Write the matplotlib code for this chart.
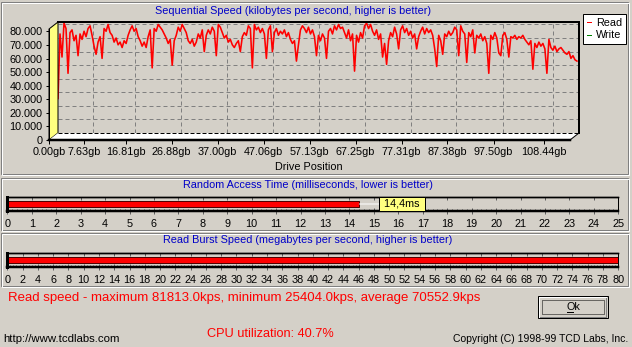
import numpy as np
import matplotlib
matplotlib.use('Agg')
import matplotlib.pyplot as plt
from matplotlib.patches import Polygon, Rectangle
from matplotlib.lines import Line2D

# ---------------- data ----------------
# sequential read speed, thousands of kB/s, read along the drive
read_speed = [
    25.4, 73, 56, 81, 77, 44, 74, 76, 68, 72, 57, 73, 69, 75, 71, 77, 79, 72, 64, 58,
    67, 71, 55, 77, 75, 80, 74, 72, 67, 70, 65, 67, 63, 68, 66, 72, 76, 79, 75, 77,
    71, 68, 64, 67, 63, 71, 76, 48, 77, 75, 80, 78, 76, 73, 70, 66, 69, 50, 68,
    72, 78, 75, 80, 77, 74, 68, 66, 69, 64, 67, 73, 70, 76, 60, 72, 76, 73, 78, 75,
    57, 80, 78, 74, 70, 72, 67, 69, 65, 63, 66, 68, 60, 71, 74, 72, 79, 77, 48, 80,
    76, 78, 74, 77, 73, 55, 76, 79, 60, 74, 77, 72, 75, 73, 76, 71, 74, 69, 66, 68,
    53, 65, 76, 79, 77,
    74, 78, 73, 76, 71, 57, 72, 68, 73, 70, 55, 75, 77, 73, 79, 76, 80, 77, 78, 74,
    70, 76, 68, 73, 45.6, 72, 67, 74, 70, 79, 81, 77, 80, 75, 72, 76, 69, 73, 56, 66,
    50.6, 68, 74, 71, 78, 73, 62, 76, 79, 74, 77, 72, 75, 70, 73, 62, 71, 75, 78, 73,
    77, 74, 76, 72, 62,
    49, 72, 68, 58, 73, 71, 75, 72, 74, 78, 76, 57, 79, 75, 73, 52, 74, 71, 76, 59,
    72, 70, 73, 68, 71, 66, 44, 72, 69, 74, 70, 59, 57, 72, 74, 69, 56, 71, 70, 72,
    69, 71, 70, 72, 69, 67, 65, 68, 47, 66, 63, 67, 64, 66, 62, 44, 69, 63, 61, 64,
    60, 62, 63, 61, 59, 58, 60, 55, 57, 54, 53,
]
drive_end_gb = 113.8
drive_axis_gb = 114.25
speed_axis_max = 81.813
x_tick_gb = [0.00, 7.63, 16.81, 26.88, 37.00, 47.06, 57.13, 67.25, 77.31, 87.38, 97.50, 108.44]
x_tick_labels = ['0.00gb', '7.63gb', '16.81gb', '26.88gb', '37.00gb', '47.06gb',
                 '57.13gb', '67.25gb', '77.31gb', '87.38gb', '97.50gb', '108.44gb']
y_ticks = [0, 10, 20, 30, 40, 50, 60, 70, 80]
y_tick_labels = ['0', '10.000', '20.000', '30.000', '40.000', '50.000', '60.000', '70.000', '80.000']
legend_labels = ['Read', 'Write']

access_ms = 14.4
access_label = '14,4ms'
access_max = 25
access_ticks = list(range(0, 26))
burst_mbps = 80
burst_max = 80
burst_ticks = list(range(0, 81, 2))

title_seq = 'Sequential Speed (kilobytes per second, higher is better)'
title_access = 'Random Access Time (milliseconds, lower is better)'
title_burst = 'Read Burst Speed (megabytes per second, higher is better)'
xlabel_seq = 'Drive Position'
summary_text = 'Read speed - maximum 81813.0kps, minimum 25404.0kps, average 70552.9kps'
cpu_text = 'CPU utilization: 40.7%'
url_text = 'http://www.tcdlabs.com'
copyright_text = 'Copyright (C) 1998-99 TCD Labs, Inc.'
button_text = 'Ok'

# ---------------- style ----------------
W, H = 632, 347
BG = '#D4D0C8'
BLUE = '#0000C8'
RED = '#FF0000'
PX = 72 / 100.0   # points per pixel
FS = 7.8
plt.rcParams['font.family'] = ['Liberation Sans', 'DejaVu Sans']

fig = plt.figure(figsize=(W / 100, H / 100), dpi=100, facecolor=BG)


def fx(x):
    return x / W


def fy(y):
    return 1 - y / H


def rect_px(l, t, r, b):
    return [l / W, 1 - b / H, (r - l) / W, (b - t) / H]


def etched(l, t, r, b):
    fig.add_artist(Rectangle((fx(l), fy(b)), (r - l) / W, (b - t) / H, transform=fig.transFigure,
                             fill=False, ec='#808080', lw=PX, zorder=0.5))
    fig.add_artist(Rectangle((fx(l + 1), fy(b + 1)), (r - l) / W, (b - t) / H, transform=fig.transFigure,
                             fill=False, ec='white', lw=PX, zorder=0.5))


def fline(xs, ys, **kw):
    fig.add_artist(Line2D([fx(v) for v in xs], [fy(v) for v in ys], transform=fig.transFigure, **kw))


# group boxes
etched(1, 2, 628, 174)
etched(1, 178, 628, 230)
etched(1, 233, 628, 286)

# ---------------- sequential speed chart ----------------
BL, BT, BR, BB = 58, 22, 579, 133      # back plane
DX, DY = -9, 7                         # depth offset of the front plane
ax = fig.add_axes(rect_px(BL, BT, BR, BB))
ax.set_facecolor(BG)
ax.set_xlim(0, drive_axis_gb)
ax.set_ylim(0, speed_axis_max)
ax.set_xticks(x_tick_gb[1:])
ax.set_yticks(y_ticks[1:])
ax.grid(True, color='#808080', ls=(0, (4, 3)), lw=PX)
ax.tick_params(length=0, labelbottom=False, labelleft=False)
for s in ['top', 'right']:
    ax.spines[s].set_linewidth(2 * PX)
    ax.spines[s].set_color('black')
ax.spines['left'].set_visible(False)
ax.spines['bottom'].set_visible(False)
gb = np.linspace(0, drive_end_gb, len(read_speed))
ax.plot(gb, read_speed, color=RED, lw=1.15)

# 3D wall and floor
wall = Polygon([(fx(BL + DX), fy(BT + DY)), (fx(BL), fy(BT)), (fx(BL), fy(BB)), (fx(BL + DX), fy(BB + DY))],
               closed=True, transform=fig.transFigure, fc='#FFFF80', ec='black', lw=PX, zorder=1)
fig.add_artist(wall)
floor = Polygon([(fx(BL + DX), fy(BB + DY)), (fx(BL), fy(BB)), (fx(BR), fy(BB)), (fx(BR + DX), fy(BB + DY))],
                closed=True, transform=fig.transFigure, fc='white', ec='none', zorder=1)
fig.add_artist(floor)
fline([BL, BR], [BB, BB], color='black', lw=PX, ls=(0, (4, 2)), zorder=1.1)
fline([BR, BR + DX], [BB, BB + DY], color='black', lw=PX, zorder=1.1)

axf = fig.add_axes(rect_px(BL + DX, BT + DY, BR + DX, BB + DY), zorder=2)
axf.patch.set_visible(False)
axf.set_xlim(0, drive_axis_gb)
axf.set_ylim(0, speed_axis_max)
axf.set_xticks(x_tick_gb)
axf.set_xticklabels(x_tick_labels)
axf.set_yticks(y_ticks)
axf.set_yticklabels(y_tick_labels)
axf.tick_params(axis='x', length=4 * PX, width=PX, pad=2.5, labelsize=FS)
axf.tick_params(axis='y', length=3 * PX, width=PX, pad=2.4, labelsize=FS)
for s in ['top', 'right']:
    axf.spines[s].set_visible(False)
axf.spines['bottom'].set_linewidth(2.5 * PX)
axf.spines['left'].set_linewidth(PX)

fig.text(fx(293), fy(10.5), title_seq, color=BLUE, ha='center', va='center', fontsize=FS)
fig.text(fx(309), fy(167), xlabel_seq, color='black', ha='center', va='center', fontsize=FS)

leg = fig.legend(handles=[Line2D([], [], color=RED, lw=PX), Line2D([], [], color='#008000', lw=PX)],
                 labels=legend_labels, loc='upper left', bbox_to_anchor=(fx(583), fy(14)),
                 frameon=True, fancybox=False, edgecolor='black', facecolor='white', framealpha=1,
                 handlelength=0.4, handletextpad=0.45, borderpad=0.35, labelspacing=0.25,
                 borderaxespad=0, fontsize=FS)
leg.get_frame().set_linewidth(PX)


# ---------------- bar gauges ----------------
def gauge(top, bottom, vmax, ticks, minor_step, value):
    g = fig.add_axes(rect_px(7.3, top, 618.3, bottom))
    g.set_facecolor(BG)
    g.set_xlim(0, vmax)
    g.set_ylim(0, 1)
    g.set_yticks([])
    g.set_xticks(ticks)
    g.set_xticks(np.arange(0, vmax + 1e-9, minor_step), minor=True)
    g.tick_params(axis='x', which='major', direction='inout', length=6 * PX, width=PX,
                  color='#606060', pad=3.5, labelsize=FS)
    g.tick_params(axis='x', which='minor', direction='in', length=2 * PX, width=PX, color='#606060')
    top_ax = g.secondary_xaxis('top')
    top_ax.set_xticks(ticks)
    top_ax.tick_params(direction='in', length=3 * PX, width=PX, color='#606060', labeltop=False)
    top_ax.spines['top'].set_linewidth(1.4 * PX)
    g.spines['left'].set_linewidth(3 * PX)
    g.spines['bottom'].set_linewidth(2.5 * PX)
    g.spines['top'].set_linewidth(1.4 * PX)
    g.spines['right'].set_linewidth(PX)
    g.barh(0.5, value, height=0.45, color=RED, ec='#500000', lw=PX)
    return g


ga = gauge(197, 211, access_max, access_ticks, 0.2, access_ms)
ga.annotate(' ' + access_label + ' ', xy=(access_ms, 0.5), xytext=(15.3, 0.5), ha='left', va='center',
            fontsize=FS, annotation_clip=False,
            bbox=dict(boxstyle='square,pad=0.2', fc='#FFFF80', ec='black', lw=PX),
            arrowprops=dict(arrowstyle='-', color='white', lw=PX, shrinkA=0, shrinkB=0))
fig.text(fx(308), fy(185), title_access, color=BLUE, ha='center', va='center', fontsize=FS)

gb_ax = gauge(253, 267, burst_max, burst_ticks, 0.4, burst_mbps)
fig.text(fx(308), fy(240), title_burst, color=BLUE, ha='center', va='center', fontsize=FS)

# ---------------- footer ----------------
fig.text(fx(8), fy(298), summary_text, color=RED, ha='left', va='center', fontsize=9.5)
fig.text(fx(207), fy(334), cpu_text, color=RED, ha='left', va='center', fontsize=9.2)
fig.text(fx(3), fy(339), url_text, color='black', ha='left', va='center', fontsize=8.2)
fig.text(fx(628), fy(339), copyright_text, color='black', ha='right', va='center', fontsize=7.5)

# Ok button
fig.add_artist(Rectangle((fx(538), fy(318)), 70 / W, 22 / H, transform=fig.transFigure,
                         fc=BG, ec='black', lw=PX, zorder=1))
fline([539, 606], [317, 317], color='#808080', lw=PX)
fline([606, 606], [297, 317], color='#808080', lw=PX)
fline([539, 606], [297, 297], color='white', lw=PX)
fline([539, 539], [297, 317], color='white', lw=PX)
fig.add_artist(Rectangle((fx(542), fy(314)), 62 / W, 14 / H, transform=fig.transFigure,
                         fill=False, ec='black', lw=PX, ls=(0, (1, 1)), zorder=1.2))
fig.text(fx(573), fy(307), button_text, color='black', ha='center', va='center', fontsize=FS)
fline([566.5, 573], [312, 312], color='black', lw=PX)

fig.savefig('out.png', dpi=100, facecolor=BG)
